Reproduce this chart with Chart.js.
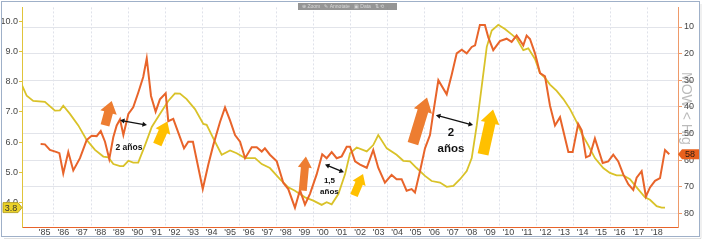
<!DOCTYPE html>
<html>
<head>
<meta charset="utf-8">
<script src="https://cdn.jsdelivr.net/npm/chart.js@4.4.1/dist/chart.umd.min.js"></script>
<style>
  html, body { margin: 0; padding: 0; background: #fff; }
</style>
</head>
<body>
<canvas id="myChart" width="703" height="241"></canvas>
<script>
// yellow line, left axis
const yellowYears = [1984.26,1984.53,1984.88,1985.51,1986.05,1986.32,1986.50,1986.86,1987.31,1987.76,1988.21,1988.66,1988.93,1989.20,1989.56,1989.74,1990.01,1990.27,1990.54,1990.91,1991.27,1991.71,1992.16,1992.52,1992.79,1993.15,1993.60,1994.05,1994.23,1994.59,1995.04,1995.49,1995.85,1996.30,1996.84,1997.20,1997.64,1998.18,1998.63,1998.99,1999.53,1999.98,2000.43,2000.70,2000.97,2001.33,2001.69,2001.96,2002.32,2002.86,2003.21,2003.48,2003.94,2004.47,2004.83,2005.19,2005.55,2006.00,2006.36,2006.81,2007.17,2007.53,2007.89,2008.25,2008.52,2008.79,2009.06,2009.33,2009.60,2009.95,2010.31,2010.67,2010.94,2011.30,2011.57,2011.93,2012.20,2012.47,2012.74,2013.10,2013.46,2013.82,2014.18,2014.45,2014.80,2015.16,2015.61,2015.97,2016.33,2016.69,2017.05,2017.41,2017.86,2018.13,2018.49,2018.76,2018.94];
const yellowValues = [7.90,7.53,7.36,7.33,7.04,7.05,7.20,6.93,6.55,6.07,5.74,5.52,5.49,5.27,5.20,5.20,5.38,5.32,5.32,5.90,6.50,6.93,7.36,7.61,7.60,7.42,7.09,6.60,6.57,6.12,5.58,5.72,5.63,5.47,5.47,5.27,5.14,4.77,4.50,4.39,4.17,4.06,3.92,4.01,3.94,4.28,4.93,5.63,5.82,5.69,5.90,6.23,5.79,5.58,5.38,5.36,5.14,4.88,4.71,4.66,4.52,4.55,4.77,5.04,5.47,6.55,7.85,9.15,9.69,9.88,9.74,9.56,9.42,9.04,9.10,8.75,8.28,8.12,7.90,7.69,7.42,7.09,6.66,6.28,5.90,5.47,5.14,4.98,4.90,4.90,4.77,4.50,4.17,4.09,3.88,3.83,3.83];

// orange line, right axis (inverted)
const orangeYears = [1985.28,1985.51,1985.78,1986.15,1986.29,1986.50,1986.77,1987.04,1987.40,1987.76,1988.03,1988.30,1988.52,1988.75,1988.98,1989.20,1989.38,1989.56,1989.74,1990.01,1990.27,1990.54,1990.81,1991.00,1991.23,1991.48,1991.71,1992.02,1992.16,1992.43,1992.75,1993.01,1993.24,1993.49,1994.02,1994.32,1994.59,1994.95,1995.22,1995.49,1995.76,1996.03,1996.30,1996.66,1996.93,1997.20,1997.37,1997.64,1998.01,1998.36,1998.63,1998.99,1999.26,1999.53,1999.80,2000.16,2000.46,2000.70,2000.97,2001.24,2001.51,2001.78,2001.96,2002.23,2002.50,2002.86,2003.21,2003.48,2003.84,2004.20,2004.47,2004.74,2005.01,2005.28,2005.46,2005.73,2006.00,2006.27,2006.45,2006.72,2007.17,2007.44,2007.71,2007.98,2008.25,2008.52,2008.70,2008.96,2009.23,2009.41,2009.68,2010.04,2010.40,2010.67,2010.94,2011.12,2011.30,2011.48,2011.66,2011.93,2012.20,2012.47,2012.74,2013.01,2013.28,2013.73,2013.96,2014.26,2014.45,2014.68,2014.89,2015.16,2015.58,2015.88,2016.15,2016.42,2016.69,2016.96,2017.23,2017.41,2017.68,2017.91,2018.13,2018.40,2018.67,2018.94,2019.17];
const orangeValues = [54.0,54.1,56.2,57.0,57.4,65.0,57.0,63.9,59.3,52.5,50.9,51.0,49.1,53.1,59.6,51.3,47.0,44.7,50.6,42.7,40.2,34.7,28.8,21.8,35.9,41.8,37.2,34.9,45.4,44.5,50.6,55.6,53.1,53.1,70.9,61.7,54.3,45.7,40.2,45.1,50.6,53.1,59.3,55.2,55.2,56.8,55.6,58.0,60.5,68.5,70.9,77.9,71.3,76.7,72.7,65.4,57.8,59.3,57.0,59.3,58.6,55.0,55.0,60.5,61.7,62.9,56.2,62.9,68.5,65.6,67.2,67.2,71.5,70.9,72.2,64.2,55.6,50.6,42.1,30.0,35.3,27.9,19.9,18.5,19.9,17.5,16.9,9.2,9.2,13.8,18.7,15.3,14.4,15.6,13.2,15.0,16.9,13.2,14.5,19.9,27.3,28.5,39.6,47.0,43.9,57.0,57.0,46.4,48.8,59.0,58.3,51.9,61.1,60.5,58.0,60.5,65.4,69.1,71.2,66.6,64.2,73.7,70.3,67.8,66.8,56.2,57.8];

const xYears = [];
for (let y = 1985; y <= 2018; y++) xYears.push(y);
const leftTicks = [4, 5, 6, 7, 8, 9, 10];
const rightTicks = [10, 20, 30, 40, 50, 60, 70, 80];

// annotations, in (year, left-axis value)
const blockArrows = [
  { from: [1988.75, 6.55], to: [1989.11, 7.36], color: '#ED7D31', shaft: 9, head: 17, headLen: 12 },
  { from: [1991.57, 5.92], to: [1992.11, 6.68], color: '#FFC000', shaft: 9, head: 16, headLen: 11 },
  { from: [1999.41, 4.39], to: [1999.58, 5.52], color: '#ED7D31', shaft: 8, head: 14, headLen: 11 },
  { from: [2002.17, 4.23], to: [2002.66, 4.94], color: '#FFC000', shaft: 8, head: 14, headLen: 10 },
  { from: [2005.35, 5.95], to: [2006.11, 7.47], color: '#ED7D31', shaft: 11, head: 19, headLen: 14 },
  { from: [2009.13, 5.59], to: [2009.67, 7.08], color: '#FFC000', shaft: 11, head: 19, headLen: 14 }
];
const spanArrows = [
  { from: [1989.56, 6.72], to: [1991.01, 6.56] },
  { from: [2000.61, 5.26], to: [2001.63, 5.00] },
  { from: [2006.59, 6.89], to: [2008.59, 6.56] }
];
const notes = [
  { at: [1990.04, 5.82], lines: ['2 años'], size: 8.5, lh: 10 },
  { at: [2000.85, 4.54], lines: ['1,5', 'años'], size: 8, lh: 11 },
  { at: [2007.40, 6.04], lines: ['2', 'años'], size: 11.5, lh: 16 }
];

const FONT = "'Liberation Sans', Arial, sans-serif";

function drawBlockArrow(ctx, bx, by, tx, ty, a) {
  const dx = tx - bx, dy = ty - by;
  const len = Math.hypot(dx, dy);
  const ux = dx / len, uy = dy / len;
  const nx = -uy, ny = ux;
  const hx = tx - ux * a.headLen, hy = ty - uy * a.headLen;
  const s = a.shaft / 2, h = a.head / 2;
  ctx.beginPath();
  ctx.moveTo(bx + nx * s, by + ny * s);
  ctx.lineTo(hx + nx * s, hy + ny * s);
  ctx.lineTo(hx + nx * h, hy + ny * h);
  ctx.lineTo(tx, ty);
  ctx.lineTo(hx - nx * h, hy - ny * h);
  ctx.lineTo(hx - nx * s, hy - ny * s);
  ctx.lineTo(bx - nx * s, by - ny * s);
  ctx.closePath();
  ctx.fillStyle = a.color;
  ctx.fill();
}

function drawHead(ctx, x, y, ux, uy) {
  const nx = -uy, ny = ux, L = 4.5, W = 2.6;
  ctx.beginPath();
  ctx.moveTo(x, y);
  ctx.lineTo(x - ux * L + nx * W, y - uy * L + ny * W);
  ctx.lineTo(x - ux * L - nx * W, y - uy * L - ny * W);
  ctx.closePath();
  ctx.fill();
}

const overlay = {
  id: 'overlay',
  afterDatasetsDraw(chart) {
    const { ctx, scales } = chart;
    const px = v => scales.x.getPixelForValue(v);
    const py = v => scales.y.getPixelForValue(v);
    ctx.save();
    blockArrows.forEach(a => {
      drawBlockArrow(ctx, px(a.from[0]), py(a.from[1]), px(a.to[0]), py(a.to[1]), a);
    });
    ctx.strokeStyle = '#111';
    ctx.fillStyle = '#111';
    ctx.lineWidth = 1.3;
    spanArrows.forEach(s => {
      const x1 = px(s.from[0]), y1 = py(s.from[1]);
      const x2 = px(s.to[0]), y2 = py(s.to[1]);
      const len = Math.hypot(x2 - x1, y2 - y1);
      const ux = (x2 - x1) / len, uy = (y2 - y1) / len;
      ctx.beginPath();
      ctx.moveTo(x1 + ux * 3, y1 + uy * 3);
      ctx.lineTo(x2 - ux * 3, y2 - uy * 3);
      ctx.stroke();
      drawHead(ctx, x2, y2, ux, uy);
      drawHead(ctx, x1, y1, -ux, -uy);
    });
    ctx.textAlign = 'center';
    ctx.textBaseline = 'middle';
    notes.forEach(n => {
      ctx.font = 'bold ' + n.size + 'px ' + FONT;
      const x = px(n.at[0]);
      const y0 = py(n.at[1]) - (n.lines.length - 1) * n.lh / 2;
      n.lines.forEach((t, i) => ctx.fillText(t, x, y0 + i * n.lh));
    });
    ctx.restore();
  },
  afterDraw(chart) {
    const { ctx, scales } = chart;
    ctx.save();
    // last-value tags
    const ly = scales.y.getPixelForValue(yellowValues[yellowValues.length - 1]);
    ctx.beginPath();
    ctx.moveTo(3, ly - 5); ctx.lineTo(18, ly - 5); ctx.lineTo(22, ly);
    ctx.lineTo(18, ly + 5); ctx.lineTo(3, ly + 5); ctx.closePath();
    ctx.fillStyle = '#EBD22A'; ctx.fill();
    ctx.strokeStyle = '#A89415'; ctx.lineWidth = 0.8; ctx.stroke();
    ctx.fillStyle = '#333'; ctx.font = '9px ' + FONT;
    ctx.textAlign = 'center'; ctx.textBaseline = 'middle';
    ctx.fillText(yellowValues[yellowValues.length - 1].toFixed(1), 11, ly + 0.5);

    const ry = scales.y2.getPixelForValue(orangeValues[orangeValues.length - 1]);
    ctx.beginPath();
    ctx.moveTo(678, ry); ctx.lineTo(682, ry - 5); ctx.lineTo(699, ry - 5);
    ctx.lineTo(699, ry + 5); ctx.lineTo(682, ry + 5); ctx.closePath();
    ctx.fillStyle = '#E8601C'; ctx.fill();
    ctx.fillStyle = '#2a1a10';
    ctx.fillText(Math.round(orangeValues[orangeValues.length - 1]), 690, ry + 0.5);

    // faded side caption
    ctx.translate(686, 72);
    ctx.rotate(Math.PI / 2);
    ctx.fillStyle = 'rgba(120,120,120,0.5)';
    ctx.font = '14px ' + FONT;
    ctx.textAlign = 'left';
    ctx.fillText('MOW < Hig', 0, 0);
    ctx.setTransform(1, 0, 0, 1, 0, 0);

    // toolbar strip
    ctx.fillStyle = 'rgba(130,130,130,0.85)';
    ctx.fillRect(298, 3, 99, 7);
    ctx.fillStyle = 'rgba(230,230,230,0.8)';
    ctx.font = '5px ' + FONT;
    ctx.textAlign = 'left';
    ctx.fillText('\u2295 Zoom   \u270E Annotate   \u25A3 Data   \u21C5 \u27F2', 302, 6.8);

    // frame
    ctx.strokeStyle = '#9fb0c8';
    ctx.lineWidth = 1;
    ctx.strokeRect(1.5, 1.5, 698, 235);
    ctx.strokeStyle = 'rgba(0,0,0,0.12)';
    ctx.beginPath();
    ctx.moveTo(701, 4); ctx.lineTo(701, 238.5); ctx.lineTo(4, 238.5);
    ctx.stroke();
    ctx.restore();
  }
};

const ctx = document.getElementById('myChart').getContext('2d');
new Chart(ctx, {
  type: 'line',
  data: {
    datasets: [
      {
        label: 'orange',
        data: orangeYears.map((x, i) => ({ x: x, y: orangeValues[i] })),
        yAxisID: 'y2',
        borderColor: '#E8642A',
        borderWidth: 2,
        pointRadius: 0,
        tension: 0
      },
      {
        label: 'yellow',
        data: yellowYears.map((x, i) => ({ x: x, y: yellowValues[i] })),
        yAxisID: 'y',
        borderColor: '#D9C229',
        borderWidth: 1.8,
        pointRadius: 0,
        tension: 0
      }
    ]
  },
  options: {
    responsive: false,
    animation: false,
    layout: { padding: { top: 3, left: 0, right: 0, bottom: 0 } },
    plugins: { legend: { display: false }, tooltip: { enabled: false } },
    scales: {
      x: {
        type: 'linear',
        min: 1984.275,
        max: 2019.64,
        afterBuildTicks: s => {
          const t = [];
          xYears.forEach(y => { t.push({ value: y }); t.push({ value: y + 0.5 }); });
          s.ticks = t;
        },
        afterFit: s => { s.height = 14; },
        border: { color: '#E8642A', dash: [2, 2], width: 1 },
        grid: {
          color: c => (c.tick && Number.isInteger(c.tick.value) && c.tick.value % 2 === 0) ? '#dfe2ea' : 'rgba(0,0,0,0)',
          drawTicks: false
        },
        ticks: {
          autoSkip: false,
          maxRotation: 0,
          padding: 0,
          color: '#444',
          font: { family: FONT, size: 9 },
          callback: v => Number.isInteger(v) ? '' : "'" + String(Math.floor(v)).slice(2)
        }
      },
      y: {
        position: 'left',
        min: 3.189,
        max: 10.454,
        afterBuildTicks: s => { s.ticks = leftTicks.map(v => ({ value: v })); },
        afterFit: s => { s.width = 22; },
        border: { color: '#E0C43A', width: 1 },
        grid: { drawOnChartArea: false, tickColor: '#E0C43A', tickLength: 3 },
        ticks: {
          padding: 1,
          color: '#444',
          font: { family: FONT, size: 9 },
          callback: v => v.toFixed(1)
        }
      },
      y2: {
        position: 'right',
        reverse: true,
        min: 2.63,
        max: 85.16,
        afterBuildTicks: s => { s.ticks = rightTicks.map(v => ({ value: v })); },
        afterFit: s => { s.width = 25; },
        border: { color: '#EE9A6A', width: 1 },
        grid: { color: '#e2e4ea', tickColor: '#EE9A6A', tickLength: 4 },
        ticks: {
          padding: 2,
          color: '#444',
          font: { family: FONT, size: 9 }
        }
      }
    }
  },
  plugins: [overlay]
});
</script>
</body>
</html>
